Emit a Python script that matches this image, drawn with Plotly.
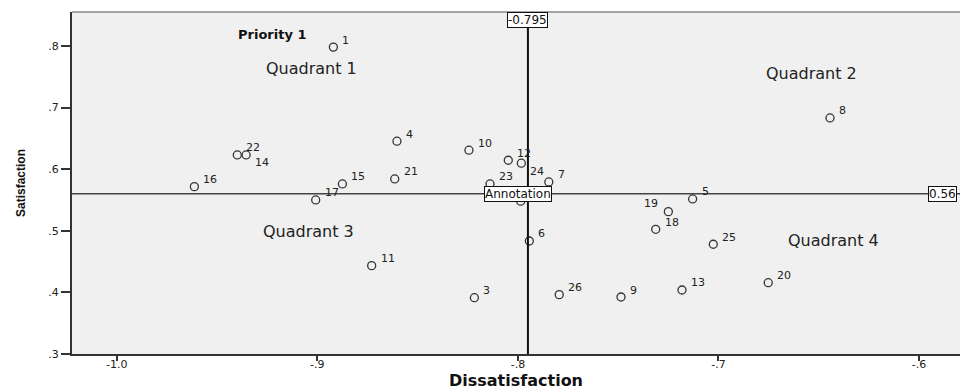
import plotly.graph_objects as go

# ---- data ----
point_ids = ["1", "2", "3", "4", "5", "6", "7", "8", "9", "10", "11", "12", "13",
             "14", "15", "16", "17", "18", "19", "20", "21", "22", "23", "24", "25", "26"]
dissatisfaction = [-0.892, -0.7986, -0.8217, -0.8603, -0.7129, -0.7943, -0.7846, -0.6444,
                   -0.7486, -0.8244, -0.8729, -0.8048, -0.7182, -0.9355, -0.8875, -0.9613,
                   -0.9008, -0.7313, -0.725, -0.6752, -0.8614, -0.9399, -0.8139, -0.7983,
                   -0.7026, -0.7794]
satisfaction = [0.798, 0.548, 0.3914, 0.6453, 0.5516, 0.4834, 0.5792, 0.6831,
                0.3925, 0.6307, 0.4434, 0.6144, 0.4039, 0.623, 0.576, 0.5716,
                0.550, 0.5024, 0.531, 0.4157, 0.5841, 0.623, 0.576, 0.6096,
                0.4781, 0.3963]
# label placement relative to the point: "ur" upper right, "lr" lower right,
# "ul" upper left, "none" = label hidden behind the "Annotation" box in the original
label_side = ["ur"] * 26
label_side[point_ids.index("14")] = "lr"
label_side[point_ids.index("24")] = "lr"
label_side[point_ids.index("19")] = "ul"
label_side[point_ids.index("2")] = "none"

ref_x = -0.795
ref_y = 0.56

x_tickvals = [-1.0, -0.9, -0.8, -0.7, -0.6]
x_ticktext = ["-1.0", "-.9", "-.8", "-.7", "-.6"]
y_tickvals = [0.3, 0.4, 0.5, 0.6, 0.7, 0.8]
y_ticktext = [".3", ".4", ".5", ".6", ".7", ".8"]

quadrant_texts = ["Quadrant 1", "Quadrant 2", "Quadrant 3", "Quadrant 4"]
quadrant_x = [-0.9031, -0.6535, -0.9046, -0.6429]
quadrant_y = [0.7627, 0.7557, 0.4992, 0.4839]

priority_text = "Priority 1"
priority_x = -0.9226
priority_y = 0.8187

annotation_text = "Annotation"
annotation_x = -0.8
annotation_y = 0.56

# ---- figure ----
fig = go.Figure()
fig.add_trace(go.Scatter(
    x=dissatisfaction, y=satisfaction, text=point_ids,
    mode="markers",
    marker=dict(symbol="circle-open", size=8, color="#333333", line=dict(width=1.3)),
    hoverinfo="x+y+text", showlegend=False,
))

side_style = {
    "ur": dict(xanchor="left", xshift=7, yshift=7),
    "lr": dict(xanchor="left", xshift=7, yshift=-8),
    "ul": dict(xanchor="right", xshift=-8, yshift=8),
}
for pid, px, py, side in zip(point_ids, dissatisfaction, satisfaction, label_side):
    if side == "none":
        continue
    fig.add_annotation(x=px, y=py, xref="x", yref="y", text=pid, showarrow=False,
                       yanchor="middle", font=dict(family="DejaVu Sans", size=11, color="#222222"),
                       **side_style[side])

# reference lines
fig.add_shape(type="line", xref="x", yref="paper", x0=ref_x, x1=ref_x, y0=0, y1=1,
              line=dict(color="#111111", width=2))
fig.add_shape(type="line", xref="paper", yref="y", x0=0, x1=1, y0=ref_y, y1=ref_y,
              line=dict(color="#444444", width=1.5))
# top border
fig.add_shape(type="line", xref="paper", yref="paper", x0=0, x1=1, y0=1, y1=1,
              line=dict(color="#888888", width=1.5))

box = dict(bgcolor="white", bordercolor="#111111", borderwidth=1, borderpad=0,
           font=dict(family="DejaVu Sans", size=12, color="#111111"), showarrow=False)
fig.add_annotation(x=ref_x, y=1, xref="x", yref="paper", yanchor="top",
                   text="-0.795", **box)
fig.add_annotation(x=-0.5956, y=ref_y, xref="x", yref="y", xanchor="left",
                   text=str(ref_y), **box)
fig.add_annotation(x=annotation_x, y=annotation_y, xref="x", yref="y",
                   text=annotation_text, **box)

for t, qx, qy in zip(quadrant_texts, quadrant_x, quadrant_y):
    fig.add_annotation(x=qx, y=qy, xref="x", yref="y", text=t, showarrow=False,
                       font=dict(family="DejaVu Sans", size=16, color="#222222"))

fig.add_annotation(x=priority_x, y=priority_y, xref="x", yref="y",
                   text="<b>" + priority_text + "</b>", showarrow=False,
                   font=dict(family="DejaVu Sans", size=13, color="#111111"))

fig.update_layout(
    width=960, height=390,
    margin=dict(l=72, r=0, t=12, b=36),
    paper_bgcolor="white", plot_bgcolor="#F0F0F0",
    xaxis=dict(range=[-1.0223, -0.5796], tickvals=x_tickvals, ticktext=x_ticktext,
               showgrid=False, zeroline=False, showline=True, linecolor="#333333",
               linewidth=2, ticks="outside", ticklen=5, tickwidth=2, tickcolor="#333333",
               ticklabelstandoff=-6,
               tickfont=dict(family="DejaVu Sans", size=11, color="#222222"),
               title=dict(text="<b>Dissatisfaction</b>", standoff=2,
                          font=dict(family="DejaVu Sans", size=16, color="#111111"))),
    yaxis=dict(range=[0.3, 0.855], tickvals=y_tickvals, ticktext=y_ticktext,
               showgrid=False, zeroline=False, showline=True, linecolor="#333333",
               linewidth=2, ticks="outside", ticklen=9, tickwidth=1.5, tickcolor="#333333",
               tickfont=dict(family="DejaVu Sans", size=11, color="#222222"),
               title=dict(text="<b>Satisfaction</b>", standoff=20,
                          font=dict(family="Liberation Sans", size=12,
                                    color="#111111"))),
)

fig.write_html("out.html", config={"responsive": False, "displayModeBar": False},
               post_script="document.body.style.margin='0';document.body.style.overflow='hidden';")
